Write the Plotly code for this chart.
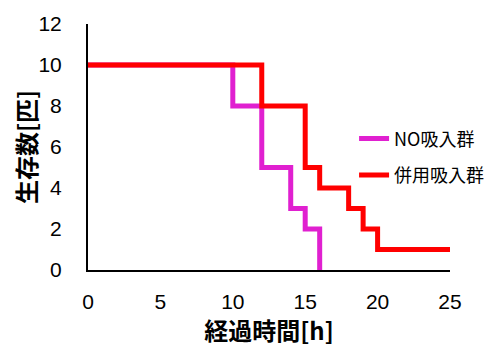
import plotly.graph_objects as go

no_x = [0, 10, 12, 14, 15, 16]
no_y = [10, 8, 5, 3, 2, 0]
mix_x = [0, 12, 15, 16, 18, 19, 20, 25]
mix_y = [10, 8, 5, 4, 3, 2, 1, 1]
x_ticks = [0, 5, 10, 15, 20, 25]
y_ticks = [0, 2, 4, 6, 8, 10, 12]

cjk = "Noto Sans CJK JP"
num = "Liberation Sans Narrow, Liberation Sans, Noto Sans CJK JP"
fig = go.Figure()
fig.add_trace(go.Scatter(x=no_x, y=no_y, mode="lines", line_shape="hv",
                         line=dict(color="#E020D0", width=5), name="NO吸入群",
                         legendgroup="a"))
fig.add_trace(go.Scatter(x=mix_x, y=mix_y, mode="lines", line_shape="hv",
                         line=dict(color="#FF0000", width=5), name="併用吸入群",
                         legendgroup="b"))
# page has an 8px body margin, so the figure is sized to fit inside it
fig.update_layout(
    width=486, height=339,
    margin=dict(l=80, r=44, t=16, b=77, autoexpand=False),
    paper_bgcolor="white", plot_bgcolor="white",
    font=dict(family=cjk, color="black", size=16),
    legend=dict(x=0.735, y=0.46, xanchor="left", yanchor="middle",
                bgcolor="rgba(0,0,0,0)", font=dict(size=18, family=cjk),
                traceorder="grouped", tracegroupgap=10, itemwidth=30),
    xaxis=dict(range=[0, 25], tickvals=x_ticks, showgrid=False, zeroline=False,
               showline=True, linecolor="black", linewidth=2, ticks="",
               automargin=False, ticklabelstandoff=12,
               tickfont=dict(family=num, size=21),
               title=dict(text="<b>経過時間[h]</b>", font=dict(size=24), standoff=20)),
    yaxis=dict(range=[0, 12], tickvals=y_ticks, showgrid=False, zeroline=False,
               showline=True, linecolor="black", linewidth=2, ticks="",
               automargin=False, ticklabelstandoff=20,
               tickfont=dict(family=num, size=21),
               title=dict(text="<b>生存数[匹]</b>", font=dict(size=24), standoff=15)),
)
fig.write_html("out.html")
